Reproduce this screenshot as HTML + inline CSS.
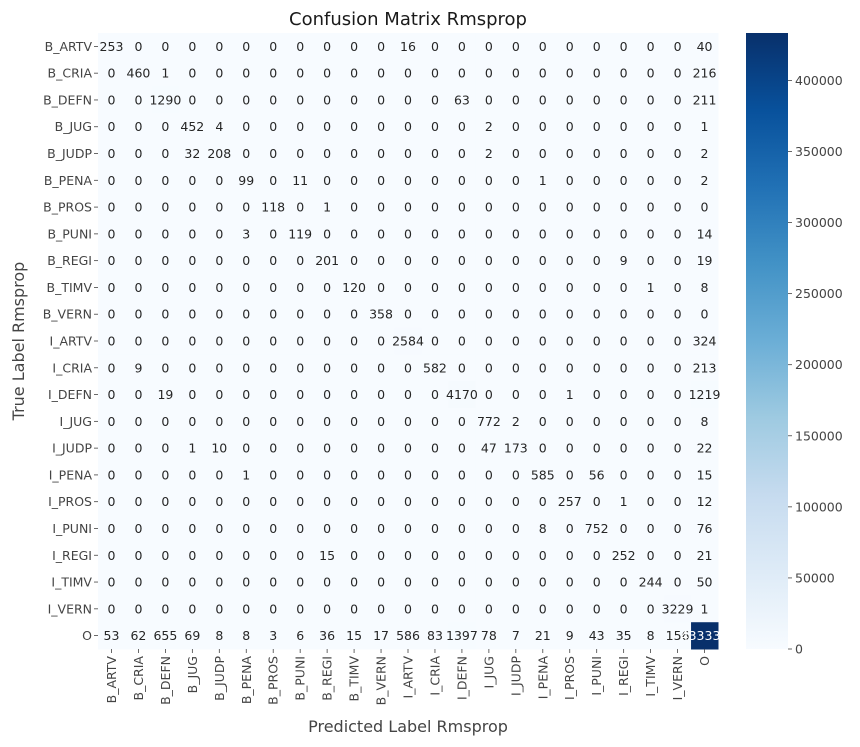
<!DOCTYPE html>
<html><head><meta charset="utf-8"><style>
body{margin:0;background:#fff;}
svg{display:block;font-family:"DejaVu Sans","Liberation Sans",sans-serif;}
</style></head><body>
<svg id="chart" width="860" height="747"></svg>
<script>
const labels=["B_ARTV","B_CRIA","B_DEFN","B_JUG","B_JUDP","B_PENA","B_PROS","B_PUNI","B_REGI","B_TIMV","B_VERN","I_ARTV","I_CRIA","I_DEFN","I_JUG","I_JUDP","I_PENA","I_PROS","I_PUNI","I_REGI","I_TIMV","I_VERN","O"];
const matrix=[
[253,0,0,0,0,0,0,0,0,0,0,16,0,0,0,0,0,0,0,0,0,0,40],
[0,460,1,0,0,0,0,0,0,0,0,0,0,0,0,0,0,0,0,0,0,0,216],
[0,0,1290,0,0,0,0,0,0,0,0,0,0,63,0,0,0,0,0,0,0,0,211],
[0,0,0,452,4,0,0,0,0,0,0,0,0,0,2,0,0,0,0,0,0,0,1],
[0,0,0,32,208,0,0,0,0,0,0,0,0,0,2,0,0,0,0,0,0,0,2],
[0,0,0,0,0,99,0,11,0,0,0,0,0,0,0,0,1,0,0,0,0,0,2],
[0,0,0,0,0,0,118,0,1,0,0,0,0,0,0,0,0,0,0,0,0,0,0],
[0,0,0,0,0,3,0,119,0,0,0,0,0,0,0,0,0,0,0,0,0,0,14],
[0,0,0,0,0,0,0,0,201,0,0,0,0,0,0,0,0,0,0,9,0,0,19],
[0,0,0,0,0,0,0,0,0,120,0,0,0,0,0,0,0,0,0,0,1,0,8],
[0,0,0,0,0,0,0,0,0,0,358,0,0,0,0,0,0,0,0,0,0,0,0],
[0,0,0,0,0,0,0,0,0,0,0,2584,0,0,0,0,0,0,0,0,0,0,324],
[0,9,0,0,0,0,0,0,0,0,0,0,582,0,0,0,0,0,0,0,0,0,213],
[0,0,19,0,0,0,0,0,0,0,0,0,0,4170,0,0,0,1,0,0,0,0,1219],
[0,0,0,0,0,0,0,0,0,0,0,0,0,0,772,2,0,0,0,0,0,0,8],
[0,0,0,1,10,0,0,0,0,0,0,0,0,0,47,173,0,0,0,0,0,0,22],
[0,0,0,0,0,1,0,0,0,0,0,0,0,0,0,0,585,0,56,0,0,0,15],
[0,0,0,0,0,0,0,0,0,0,0,0,0,0,0,0,0,257,0,1,0,0,12],
[0,0,0,0,0,0,0,0,0,0,0,0,0,0,0,0,8,0,752,0,0,0,76],
[0,0,0,0,0,0,0,0,15,0,0,0,0,0,0,0,0,0,0,252,0,0,21],
[0,0,0,0,0,0,0,0,0,0,0,0,0,0,0,0,0,0,0,0,244,0,50],
[0,0,0,0,0,0,0,0,0,0,0,0,0,0,0,0,0,0,0,0,0,3229,1],
[53,62,655,69,8,8,3,6,36,15,17,586,83,1397,78,7,21,9,43,35,8,156,433337]
];
const cbTicks=[0,50000,100000,150000,200000,250000,300000,350000,400000];

const NS="http://www.w3.org/2000/svg";
const svg=document.getElementById('chart');
function mk(t,a,txt){const e=document.createElementNS(NS,t);for(const k in a)e.setAttribute(k,a[k]);if(txt!==undefined)e.textContent=txt;svg.appendChild(e);return e;}
const L=98,T=33,W=620,H=616,n=labels.length,cw=W/n,ch=H/n;
let vmax=0;matrix.forEach(r=>r.forEach(v=>{if(v>vmax)vmax=v;}));
const stops=[[247,251,255],[222,235,247],[198,219,239],[158,202,225],[107,174,214],[66,146,198],[33,113,181],[8,81,156],[8,48,107]];
function blues(t){t=Math.max(0,Math.min(1,t));const p=t*(stops.length-1),i=Math.min(stops.length-2,Math.floor(p)),f=p-i;const c=stops[i].map((v,k)=>Math.round(v+(stops[i+1][k]-v)*f));return `rgb(${c[0]},${c[1]},${c[2]})`;}
const xS=j=>L+j*cw, yS=i=>T+i*ch;

let e=mk('text',{x:408,y:25,'text-anchor':'middle','font-size':18,fill:'#1a1a1a'},'Confusion Matrix Rmsprop');


for(let i=0;i<n;i++)for(let j=0;j<n;j++){
 const v=matrix[i][j],t=v/vmax;
 e=mk('rect',{x:xS(j),y:yS(i),width:cw+0.5,height:ch+0.5,fill:blues(t)});
 
 
}
for(let i=0;i<n;i++)for(let j=0;j<n;j++){
 const v=matrix[i][j],t=v/vmax;
 e=mk('text',{x:xS(j)+cw/2,y:yS(i)+ch/2+4.5,'text-anchor':'middle','font-size':12.5,fill:t>0.5?'#ffffff':'#262626'},String(v));
 
 
}
for(let i=0;i<n;i++){
 mk('line',{x1:L-4,x2:L,y1:yS(i)+ch/2,y2:yS(i)+ch/2,stroke:'#444','stroke-width':0.8});
 e=mk('text',{x:L-6,y:yS(i)+ch/2+4.5,'text-anchor':'end','font-size':12.5,fill:'#444'},labels[i]);
 
 
 const cx=xS(i)+cw/2;
 mk('line',{x1:cx,x2:cx,y1:T+H,y2:T+H+4,stroke:'#444','stroke-width':0.8});
 e=mk('text',{x:cx+4.5,y:T+H+7,'text-anchor':'end','font-size':12.5,fill:'#444',transform:`rotate(-90 ${cx+4.5} ${T+H+7})`},labels[i]);
 
 
}
e=mk('text',{x:408,y:732,'text-anchor':'middle','font-size':16,fill:'#444'},'Predicted Label Rmsprop');

e=mk('text',{x:24,y:341,'text-anchor':'middle','font-size':16,fill:'#444',transform:'rotate(-90 24 341)'},'True Label Rmsprop');


// colorbar
const CL=746,CW=42;
const defs=mk('defs',{});
const g=document.createElementNS(NS,'linearGradient');g.setAttribute('id','cb');g.setAttribute('x1',0);g.setAttribute('y1',1);g.setAttribute('x2',0);g.setAttribute('y2',0);
stops.forEach((s,k)=>{const st=document.createElementNS(NS,'stop');st.setAttribute('offset',k/(stops.length-1));st.setAttribute('stop-color',`rgb(${s})`);g.appendChild(st);});
defs.appendChild(g);
e=mk('rect',{x:CL,y:T,width:CW,height:H,fill:'url(#cb)'});

const cbY=v=>T+H-v/vmax*H;
cbTicks.forEach(v=>{
 mk('line',{x1:CL+CW,x2:CL+CW+4,y1:cbY(v),y2:cbY(v),stroke:'#444','stroke-width':0.8});
 e=mk('text',{x:CL+CW+7,y:cbY(v)+4.5,'font-size':12.5,fill:'#444'},String(v));
 
 
});
</script>
</body></html>
